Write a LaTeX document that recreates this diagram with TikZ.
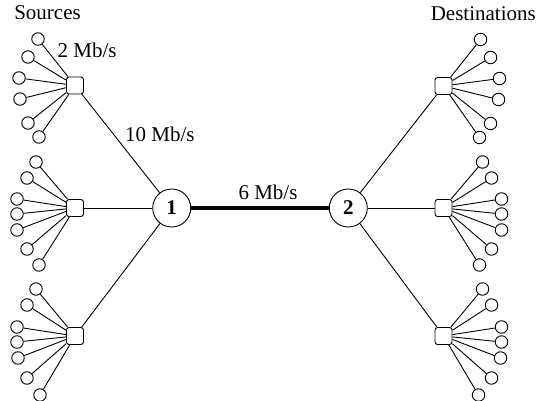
\documentclass[tikz,border=0pt]{standalone}
\usepackage{fontspec}
\setmainfont{Liberation Serif}
\begin{document}
\begin{tikzpicture}[x=1pt,y=-1pt,
  leaf/.style={circle,draw,line width=0.9pt,minimum size=12.5pt,inner sep=0pt},
  hub/.style={draw,rounded corners=2.5pt,minimum size=17pt,inner sep=0pt,line width=0.9pt},
  router/.style={circle,draw,minimum size=38pt,inner sep=0pt,line width=0.9pt,
    font=\fontsize{21}{24}\selectfont\bfseries},
  link/.style={line width=0.9pt},
  trunk/.style={line width=4pt},
  lbl/.style={font=\fontsize{21}{24}\selectfont,inner sep=0pt}]
\useasboundingbox (0,0) rectangle (538,401);
\def\offA{-37/-46.5,-47/-28.5,-56/-7.5,-55/13.5,-47/37.5,-36/51.5}
\def\offB{-39/-46,-48/-30,-58/-9,-58/6,-58/22,-48/41,-36/57}
\def\offC{-39/-47,-48/-31,-58/-9,-58/6,-57/22,-48/42,-35/59}
% routers
\node[router] (r1) at (171.7,208) {1};
\node[router] (r2) at (348.3,208) {2};
\draw[trunk] (r1) -- (r2);
% hubs
\node[hub] (sa) at (75,85.5) {};
\node[hub] (sb) at (75,208) {};
\node[hub] (sc) at (75,336) {};
\node[hub] (da) at (443.5,86) {};
\node[hub] (db) at (443.5,208) {};
\node[hub] (dc) at (443.5,336) {};
\foreach \h in {sa,sb,sc} {\draw[link] (\h) -- (r1);}
\foreach \h in {da,db,dc} {\draw[link] (\h) -- (r2);}
% leaves
\foreach \dx/\dy [count=\i] in \offA {
  \node[leaf] (sa\i) at ({75+(\dx)},{85.5+(\dy)}) {};
  \draw[link] (sa\i) -- (sa);
  \node[leaf] (da\i) at ({443.5-(\dx)},{86+(\dy)}) {};
  \draw[link] (da\i) -- (da);
}
\foreach \dx/\dy [count=\i] in \offB {
  \node[leaf] (sb\i) at ({75+(\dx)},{208+(\dy)}) {};
  \draw[link] (sb\i) -- (sb);
  \node[leaf] (db\i) at ({443.5-(\dx)},{208+(\dy)}) {};
  \draw[link] (db\i) -- (db);
}
\foreach \dx/\dy [count=\i] in \offC {
  \node[leaf] (sc\i) at ({75+(\dx)},{336+(\dy)}) {};
  \draw[link] (sc\i) -- (sc);
  \node[leaf] (dc\i) at ({443.5-(\dx)},{336+(\dy)}) {};
  \draw[link] (dc\i) -- (dc);
}
% labels
\node[lbl,anchor=base] (src) at (47.5,20) {Sources};
\node[lbl,anchor=base] (dst) at (483.3,20.5) {Destinations};
\node[lbl,anchor=base west] (l2) at (57.5,58) {2 Mb/s};
\node[lbl,anchor=base west] (l10) at (125,141.7) {10 Mb/s};
\node[lbl,anchor=base] (l6) at (268,199.5) {6 Mb/s};
\end{tikzpicture}
\end{document}
